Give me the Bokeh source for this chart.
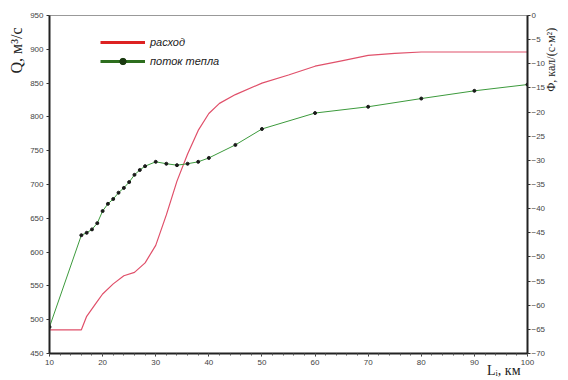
import math
from bokeh.plotting import figure
from bokeh.models import Range1d, LinearAxis, FixedTicker, Legend, LegendItem, ColumnDataSource
from bokeh.embed import file_html
from bokeh.resources import INLINE

# --- data ---
q_km = [10, 16, 17, 19, 20, 22, 24, 26, 28, 30, 32, 34, 36, 38, 40, 42, 45, 50, 55, 60, 65, 70, 75, 80, 90, 100]
q_val = [485, 485, 505, 527, 538, 553, 565, 570, 584, 610, 655, 705, 745, 780, 805, 820, 833, 850, 862, 875, 883, 891, 894, 896, 896, 896]

f_km = [10, 16, 17, 18, 19, 20, 21, 22, 23, 24, 25, 26, 27, 28, 30, 32, 34, 36, 38, 40, 45, 50, 60, 70, 80, 90, 100]
f_val = [-64.5, -45.5, -45.0, -44.3, -43.0, -40.5, -39.0, -38.0, -36.7, -35.7, -34.5, -33.0, -32.0, -31.2, -30.3,
         -30.7, -31.0, -30.7, -30.3, -29.5, -26.8, -23.5, -20.2, -18.9, -17.2, -15.6, -14.3]

x_ticks = [10, 20, 30, 40, 50, 60, 70, 80, 90, 100]
x_minor = list(range(10, 101, 2))
q_ticks = [450, 500, 550, 600, 650, 700, 750, 800, 850, 900, 950]
f_ticks = [0, -5, -10, -15, -20, -25, -30, -35, -40, -45, -50, -55, -60, -65, -70]

series_names = ["расход", "поток тепла"]
q_title = "Q, м³/с"
f_title = "Φ, кал/(с·м²)"
x_title = "Lᵢ, км"

NB = "\u00a0"  # non-breaking spaces push the axis titles toward the axis ends

p = figure(width=568, height=380, output_backend="svg", toolbar_location=None,
           x_range=Range1d(10, 100), y_range=Range1d(450, 950),
           min_border_left=49, min_border_right=33, min_border_top=15, min_border_bottom=25)
p.extra_y_ranges = {"flux": Range1d(-70, 0), "offscreen": Range1d(-2000, -1990)}
p.grid.visible = False
p.outline_line_color = "#999999"
p.outline_line_width = 1
p.background_fill_color = "white"
p.border_fill_color = "white"

def style_axis(ax, title, size, standoff):
    ax.axis_line_color = "#222222"
    ax.axis_line_width = 2
    ax.major_tick_line_color = "#333333"
    ax.minor_tick_line_color = "#555555"
    ax.major_tick_out = 3
    ax.major_tick_in = 0
    ax.minor_tick_out = 2
    ax.minor_tick_in = 0
    ax.major_label_text_font = "Liberation Sans"
    ax.major_label_text_font_size = "8px"
    ax.major_label_text_color = "#444444"
    ax.major_label_standoff = 3
    ax.axis_label = title
    ax.axis_label_text_font = "Liberation Serif"
    ax.axis_label_text_font_style = "normal"
    ax.axis_label_text_font_size = size
    ax.axis_label_text_color = "#222222"
    ax.axis_label_standoff = standoff

p.xaxis.ticker = FixedTicker(ticks=x_ticks, minor_ticks=x_minor)
p.yaxis.ticker = FixedTicker(ticks=q_ticks)
style_axis(p.xaxis[0], NB * 123 + x_title, "14px", -5)
style_axis(p.yaxis[0], NB * 67 + q_title, "16px", 2)

rax = LinearAxis(y_range_name="flux", ticker=FixedTicker(ticks=f_ticks))
style_axis(rax, NB * 31 + f_title, "12px", 3)
rax.major_label_standoff = 1
rax.axis_label_orientation = math.pi / 2
p.add_layout(rax, "right")

src_q = ColumnDataSource(dict(x=q_km, y=q_val))
src_f = ColumnDataSource(dict(x=f_km, y=f_val))

p.line("x", "y", source=src_q, line_color="#e0506a", line_width=1.2)
p.line("x", "y", source=src_f, y_range_name="flux", line_color="#3c9a3c", line_width=1)
p.scatter("x", "y", source=src_f, y_range_name="flux", size=3, marker="circle",
          fill_color="#1a1a1a", line_color="#1a1a1a")

# legend-only renderers (thicker styles as in the reference legend), drawn out of view
lr = p.line("x", "y", source=src_q, y_range_name="offscreen", line_color="#dd2222", line_width=3)
lg = p.line("x", "y", source=src_f, y_range_name="offscreen", line_color="#2d6e1e", line_width=3)
lm = p.scatter("x", "y", source=src_f, y_range_name="offscreen", size=5, marker="circle",
               fill_color="#1a3a10", line_color="#1a3a10")

legend = Legend(items=[LegendItem(label=series_names[0], renderers=[lr]),
                       LegendItem(label=series_names[1], renderers=[lg, lm])],
                location=(51, 284), border_line_color=None, background_fill_alpha=0,
                padding=0, spacing=3, glyph_width=45, glyph_height=16, label_height=16,
                label_standoff=5, label_text_font="Liberation Sans",
                label_text_font_style="italic", label_text_font_size="11px",
                label_text_color="#222222")
p.add_layout(legend)

open("out.html", "w").write(file_html(p, INLINE))
